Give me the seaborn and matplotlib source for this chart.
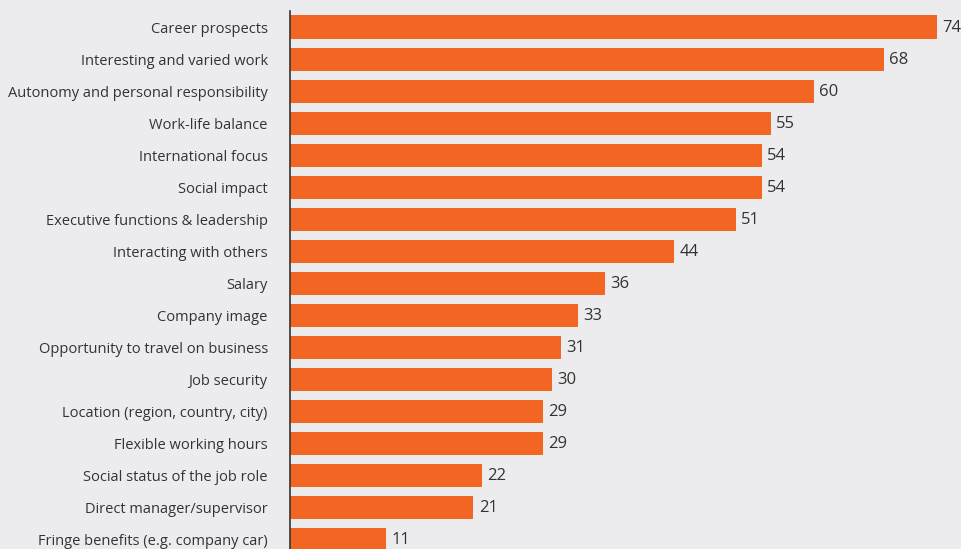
import pandas as pd
import seaborn as sns
import matplotlib.pyplot as plt

# Job attributes and share of respondents (%)
attributes = [
    'Career prospects',
    'Interesting and varied work',
    'Autonomy and personal responsibility',
    'Work-life balance',
    'International focus',
    'Social impact',
    'Executive functions & leadership',
    'Interacting with others',
    'Salary',
    'Company image',
    'Opportunity to travel on business',
    'Job security',
    'Location (region, country, city)',
    'Flexible working hours',
    'Social status of the job role',
    'Direct manager/supervisor',
    'Fringe benefits (e.g. company car)',
]
values = [74, 68, 60, 55, 54, 54, 51, 44, 36, 33, 31, 30, 29, 29, 22, 21, 11]

data = pd.DataFrame({'attribute': attributes, 'value': values})

bg = '#ECECEE'
bar_color = '#F26522'
text_color = '#333333'

sns.set_theme(style='white')
plt.rcParams['font.family'] = ['Open Sans', 'DejaVu Sans']

fig = plt.figure(figsize=(9.61, 5.49), dpi=100, facecolor=bg)
ax = fig.add_axes([290 / 961, 0, 1 - 290 / 961, 1 - 11 / 549])
ax.set_facecolor(bg)

sns.barplot(data=data, x='value', y='attribute', color=bar_color,
            saturation=1, width=0.72, linewidth=0, ax=ax)

# value labels just past the bar ends
for i, v in enumerate(values):
    ax.text(v + 0.6, i + 0.03, str(v), va='center', ha='left',
            fontsize=12, color=text_color)

ax.set_xlim(0, 76.8)
ax.set_ylim(16.3, -0.5)
ax.set_xlabel('')
ax.set_ylabel('')
ax.set_xticks([])
ax.tick_params(axis='y', length=0, pad=16, labelsize=10.5, labelcolor=text_color)

for side in ['top', 'right', 'bottom']:
    ax.spines[side].set_visible(False)
ax.spines['left'].set_color('#333333')
ax.spines['left'].set_linewidth(1.2)

fig.savefig('out.png', dpi=100, facecolor=bg)
